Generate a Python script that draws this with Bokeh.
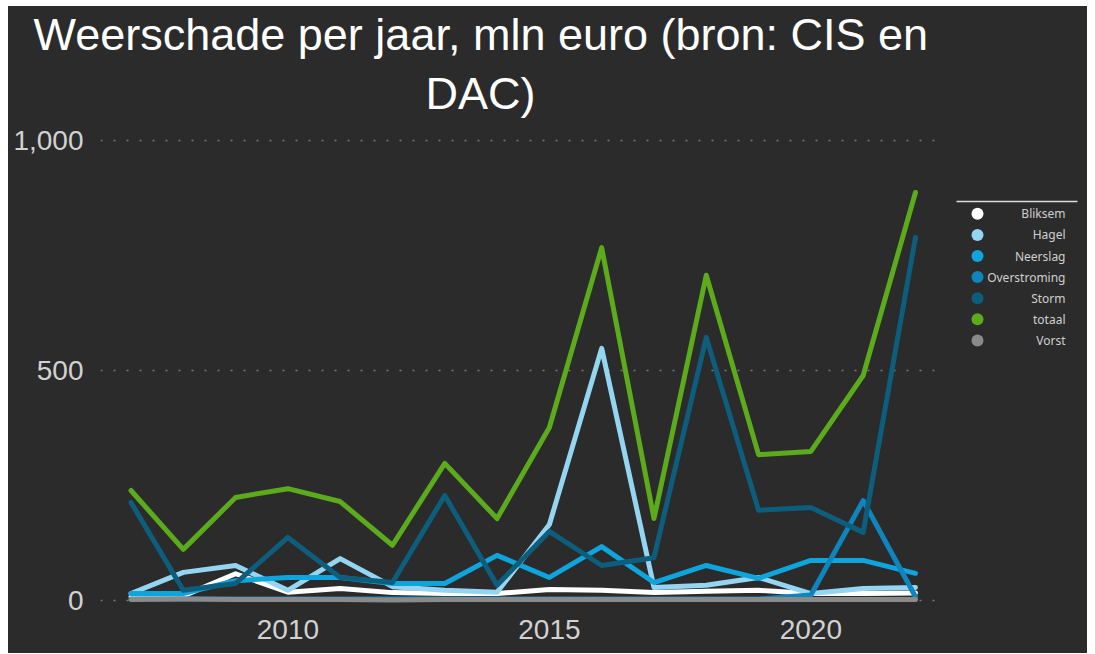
from bokeh.plotting import figure
from bokeh.models import Range1d, FixedTicker, NumeralTickFormatter, Title
from bokeh.layouts import row
from bokeh.embed import file_html
from bokeh.resources import INLINE
from bokeh.core.properties import value

# ---------------- data ----------------
years = list(range(2007, 2023))
series_names = ["Bliksem", "Hagel", "Neerslag", "Overstroming", "Storm", "totaal", "Vorst"]
bliksem = [8, 10, 58, 18, 26, 17, 15, 15, 24, 22, 17, 20, 22, 15, 15, 16]
hagel = [15, 61, 76, 22, 91, 30, 22, 18, 165, 548, 28, 33, 50, 15, 26, 28]
neerslag = [15, 15, 43, 50, 50, 37, 37, 98, 50, 117, 39, 76, 48, 87, 87, 59]
overstroming = [3, 3, 3, 3, 3, 3, 3, 3, 3, 3, 3, 3, 3, 12, 217, 8]
storm = [213, 22, 37, 137, 50, 39, 228, 33, 150, 76, 93, 572, 196, 202, 148, 789]
totaal = [239, 111, 224, 243, 215, 120, 298, 178, 376, 767, 178, 707, 317, 324, 489, 887]
vorst = [2, 3, 2, 2, 2, 1, 2, 2, 2, 2, 2, 2, 2, 2, 2, 2]
series_values = [bliksem, hagel, neerslag, overstroming, storm, totaal, vorst]
series_colors = ["#ffffff", "#94d6f2", "#0ea4dc", "#0f84bd", "#0d5d7d", "#5bab1c", "#8a8a8a"]
x_ticks = [2010, 2015, 2020]
y_ticks = [0, 500, 1000]
title_line1 = "Weerschade per jaar, mln euro (bron: CIS en"
title_line2 = "DAC)"

BG = "#2b2b2b"
LABEL = "#d2d2d2"

# ---------------- main chart ----------------
p = figure(frame_width=835, frame_height=480,
           min_border_left=92, min_border_right=15, min_border_top=119, min_border_bottom=48,
           x_range=Range1d(2006.417, 2022.383), y_range=Range1d(-11, 1032.6),
           output_backend="svg", toolbar_location=None,
           background_fill_color=BG, border_fill_color=BG, outline_line_color=None)

for vals, col in zip(series_values, series_colors):
    p.line(years, vals, line_color=col, line_width=5, line_cap="round", line_join="round")

p.xaxis.ticker = FixedTicker(ticks=x_ticks)
p.yaxis.ticker = FixedTicker(ticks=y_ticks)
p.yaxis.formatter = NumeralTickFormatter(format="0,0")
for ax in (p.xaxis, p.yaxis):
    ax.axis_line_color = None
    ax.major_tick_line_color = None
    ax.minor_tick_line_color = None
    ax.major_label_text_font = "Liberation Sans"
    ax.major_label_text_font_size = "28px"
    ax.major_label_text_color = LABEL
p.xaxis.major_label_standoff = 8
p.yaxis.major_label_standoff = 11

p.xgrid.visible = False
p.ygrid.ticker = FixedTicker(ticks=y_ticks)
p.ygrid.grid_line_color = "#7a7a7a"
p.ygrid.grid_line_width = 1.5
p.ygrid.grid_line_dash = "2 11"

# title: p.title is the outer (upper) line, the added Title sits next to the frame
p.title.text = title_line1
p.title.align = "left"
p.title.offset = -67
p.title.text_font = "Liberation Sans"
p.title.text_font_size = "45px"
p.title.text_font_style = "normal"
p.title.text_color = "#ffffff"
p.title.standoff = 0
p.add_layout(Title(text=title_line2, align="left", offset=325, text_font="Liberation Sans",
                   text_font_size="45px", text_font_style="normal", text_color="#ffffff",
                   standoff=13), "above")

# ---------------- legend panel (page-pixel coordinates) ----------------
lg = figure(frame_width=137, frame_height=480,
            min_border_left=0, min_border_right=0, min_border_top=119, min_border_bottom=48,
            x_range=Range1d(950, 1087), y_range=Range1d(605, 125),
            x_axis_type=None, y_axis_type=None,
            output_backend="svg", toolbar_location=None,
            background_fill_color=BG, border_fill_color=BG, outline_line_color=None)
lg.xgrid.visible = False
lg.ygrid.visible = False
leg_y = [213.3 + 21.1 * i for i in range(len(series_names))]
lg.segment(x0=[956], y0=[201], x1=[1077], y1=[201], line_color="#dddddd", line_width=1.5)
lg.scatter(x=[977] * len(series_names), y=leg_y, size=12, fill_color=series_colors,
           line_color=None)
lg.text(x=[1065] * len(series_names), y=leg_y, text=series_names, text_align="right",
        text_baseline="middle", text_font=value("Noto Sans"), text_font_size="12px",
        text_color="#cfcfcf")

layout = row(p, lg, margin=(6, 0, 0, 8), styles={"background-color": BG})
open("out.html", "w").write(file_html(layout, INLINE))
